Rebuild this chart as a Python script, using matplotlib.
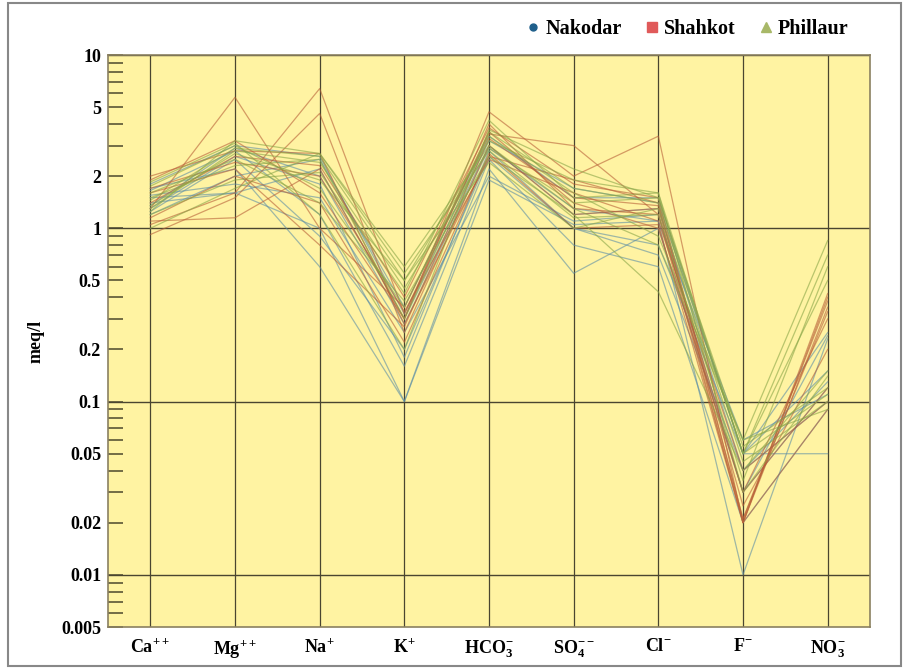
import matplotlib
matplotlib.use("Agg")
import matplotlib.pyplot as plt
from matplotlib.lines import Line2D
from matplotlib.patches import Rectangle
import numpy as np

plt.rcParams['font.family'] = ['Liberation Serif', 'DejaVu Serif']
plt.rcParams['font.weight'] = 'bold'
plt.rcParams['mathtext.fontset'] = 'custom'
plt.rcParams['mathtext.rm'] = 'Liberation Serif:bold'
plt.rcParams['mathtext.bf'] = 'Liberation Serif:bold'
plt.rcParams['mathtext.it'] = 'Liberation Serif:bold:italic'

ions = [r'$\mathrm{Ca}^{++}$', r'$\mathrm{Mg}^{++}$', r'$\mathrm{Na}^{+}$', r'$\mathrm{K}^{+}$',
        r'$\mathrm{HCO}_{3}^{-}$', r'$\mathrm{SO}_{4}^{--}$', r'$\mathrm{Cl}^{-}$', r'$\mathrm{F}^{-}$',
        r'$\mathrm{NO}_{3}^{-}$']

# columns: Ca, Mg, Na, K, HCO3, SO4, Cl, F, NO3  (meq/l)
nakodar = [
    [1.50, 1.60, 1.00, 0.10, 1.90, 1.05, 1.10, 0.010, 0.23],
    [1.70, 2.20, 0.60, 0.10, 2.20, 0.55, 1.00, 0.030, 0.24],
    [1.30, 2.60, 1.80, 0.18, 2.80, 1.00, 0.80, 0.050, 0.05],
    [1.40, 1.60, 2.20, 0.30, 3.00, 1.20, 1.30, 0.040, 0.10],
    [1.65, 2.80, 1.20, 0.16, 2.50, 0.80, 0.60, 0.020, 0.09],
    [1.20, 2.00, 2.50, 0.35, 3.40, 1.50, 1.50, 0.050, 0.15],
    [1.55, 1.80, 1.50, 0.25, 2.00, 1.10, 1.20, 0.030, 0.12],
    [1.35, 2.90, 2.00, 0.28, 2.90, 1.30, 1.10, 0.060, 0.11],
    [1.25, 2.50, 0.90, 0.20, 2.60, 1.00, 0.70, 0.040, 0.13],
    [1.80, 3.00, 2.60, 0.32, 3.20, 1.70, 1.40, 0.050, 0.25],
]
shahkot = [
    [1.10, 1.15, 2.20, 0.30, 4.70, 2.00, 3.40, 0.020, 0.40],
    [1.30, 5.70, 1.00, 0.35, 3.50, 3.00, 1.20, 0.020, 0.35],
    [2.00, 2.80, 2.70, 0.28, 2.60, 1.90, 1.40, 0.021, 0.33],
    [1.05, 1.60, 6.40, 0.32, 3.60, 1.40, 1.00, 0.030, 0.30],
    [0.92, 1.50, 4.60, 0.25, 3.00, 1.20, 1.30, 0.020, 0.09],
    [1.70, 2.40, 2.00, 0.33, 2.50, 1.60, 1.10, 0.040, 0.10],
    [1.40, 2.60, 2.30, 0.40, 3.80, 1.80, 1.50, 0.021, 0.38],
    [1.90, 3.20, 1.60, 0.30, 4.00, 1.30, 1.20, 0.030, 0.12],
    [1.15, 2.00, 1.40, 0.22, 2.70, 1.00, 1.05, 0.020, 0.42],
    [1.60, 2.20, 0.80, 0.27, 3.30, 1.50, 1.35, 0.025, 0.20],
]
phillaur = [
    [1.25, 3.20, 2.70, 0.60, 3.00, 1.30, 0.80, 0.060, 0.85],
    [1.45, 2.90, 2.60, 0.50, 3.20, 1.90, 1.60, 0.050, 0.70],
    [1.30, 2.80, 2.40, 0.45, 2.90, 1.40, 1.50, 0.055, 0.12],
    [1.60, 2.50, 1.40, 0.38, 2.60, 1.20, 0.43, 0.040, 0.15],
    [1.20, 1.90, 2.10, 0.42, 4.20, 1.50, 1.60, 0.030, 0.14],
    [1.75, 3.00, 1.70, 0.35, 3.60, 1.70, 1.40, 0.050, 0.11],
    [1.35, 2.70, 1.90, 0.50, 2.40, 1.00, 1.30, 0.045, 0.10],
    [1.50, 2.30, 2.50, 0.30, 3.40, 1.60, 0.90, 0.060, 0.09],
    [1.00, 1.70, 2.70, 0.55, 2.80, 1.15, 1.20, 0.035, 0.60],
    [1.85, 3.10, 1.20, 0.20, 3.70, 2.20, 1.50, 0.050, 0.50],
]

districts = ['Nakodar', 'Shahkot', 'Phillaur']
line_colors = ['#5e8fa6', '#b86038', '#8aa648']
legend_colors = ['#1f5f8b', '#e05a5a', '#a8b868']
legend_markers = ['o', 's', '^']

ytick_vals = [0.005, 0.01, 0.02, 0.05, 0.1, 0.2, 0.5, 1, 2, 5, 10]
ytick_labels = ['0.005', '0.01', '0.02', '0.05', '0.1', '0.2', '0.5', '1', '2', '5', '10']

fig = plt.figure(figsize=(9.06, 6.69), dpi=100)
fig.patch.set_facecolor('white')
ax = fig.add_axes([108/906, 1-627/669, (870-108)/906, (627-55)/669])
ax.set_facecolor('#fff3a2')

x = np.arange(len(ions))
for data, col in zip([nakodar, shahkot, phillaur], line_colors):
    for row in data:
        ax.plot(x, row, color=col, lw=0.9, alpha=0.6, zorder=3)

ax.set_yscale('log')
ax.set_ylim(0.005, 10)
ax.set_xlim(-0.5, len(ions) - 0.5)

# grid lines
for d in [0.01, 0.1, 1, 10]:
    ax.axhline(d, color='#4a4530', lw=1.0, zorder=2)
for xi in x:
    ax.axvline(xi, color='#4a4530', lw=0.9, zorder=2)

ax.set_yticks(ytick_vals)
ax.set_yticklabels(ytick_labels, fontsize=13, fontweight='bold')
minor = []
for dec in [0.001, 0.01, 0.1, 1]:
    for m in [3, 4, 6, 7, 8, 9]:
        v = m * dec
        if 0.005 < v < 10:
            minor.append(v)
ax.set_yticks(minor, minor=True)
ax.yaxis.set_minor_formatter(matplotlib.ticker.NullFormatter())
ax.tick_params(axis='y', which='both', direction='in', length=11, width=1.2,
               color='#5a5535', pad=5)

ax.set_xticks(x)
ax.set_xticklabels(ions, fontsize=13)
ax.tick_params(axis='x', length=0, pad=8)

ax.set_ylabel('meq/l', fontsize=13, fontweight='bold', labelpad=12)

for s in ax.spines.values():
    s.set_color('#8a8060')
    s.set_linewidth(1.2)

handles = [Line2D([], [], marker=m, color=c, linestyle='none', markersize=5 if m == 'o' else 7)
           for m, c in zip(legend_markers, legend_colors)]
fig.legend(handles, districts, loc='center', bbox_to_anchor=(686/906, 1-29/669), ncol=3,
           frameon=False, prop={'family': 'Liberation Serif', 'weight': 'bold', 'size': 14.5},
           handletextpad=0.1, columnspacing=1.0, handlelength=1.0)

fig.add_artist(Rectangle((8/906, 3/669), 893/906, 663/669, transform=fig.transFigure,
                         fill=False, edgecolor='#888888', lw=1.5))

fig.savefig('out.png', dpi=100)
